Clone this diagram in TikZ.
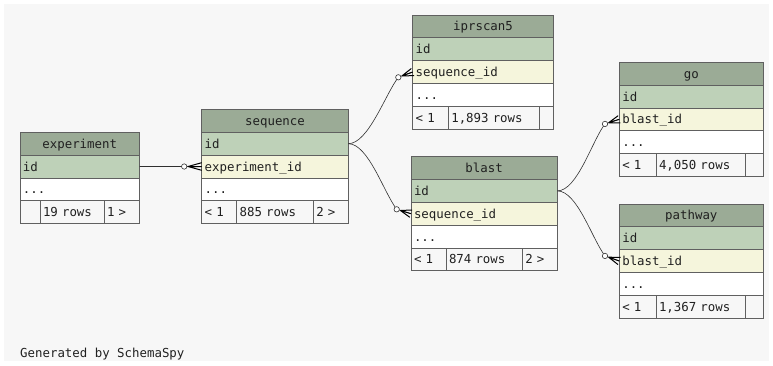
\documentclass[tikz,border=0pt]{standalone}
\usepackage{fontspec}
\newfontfamily\dmonofam{DejaVu Sans Mono}
\newcommand\tbfont{\dmonofam\fontsize{12.4}{14}\selectfont}
\usetikzlibrary{calc}
\definecolor{bgcol}{HTML}{F7F7F7}
\definecolor{hdcol}{HTML}{9BAB96}
\definecolor{pkcol}{HTML}{BED1B8}
\definecolor{fkcol}{HTML}{F5F5DC}
\definecolor{bordercol}{HTML}{606060}
\definecolor{txtcol}{HTML}{202020}
\definecolor{edgecol}{HTML}{303030}
\newcommand\cellL[5]{%
  \pgfmathsetmacro\tw{#3-6}%
  \node[cell, fill=#4, minimum width=#3pt, text width=\tw pt, align=left] (#1) at (#2) {#5};}
\newcommand\cellC[5]{%
  \pgfmathsetmacro\tw{#3-6}%
  \node[cell, fill=#4, minimum width=#3pt, text width=\tw pt, align=center] (#1) at (#2) {#5};}
\newcommand\crowfoot[2]{%
  \draw[edge] (#2) -- (#1);
  \draw[crowline] ($(#2)!3.8pt!(#1)$) -- ($(#1)!3.8pt!90:(#2)$)
                  ($(#2)!3.8pt!(#1)$) -- ($(#1)!3.8pt!-90:(#2)$)
                  ($(#2)!3.8pt!(#1)$) -- (#1);
  \draw[edge, fill=white] (#2) circle (2.7pt);}
\begin{document}
\begin{tikzpicture}[x=1pt,y=-1pt,
  cell/.style={draw=bordercol, line width=0.7pt, inner xsep=3pt, inner ysep=0pt,
    outer sep=0pt, minimum height=22.8pt, anchor=north west, font=\tbfont, text=txtcol,
    text height=9pt, text depth=0pt},
  edge/.style={draw=edgecol, line width=0.6pt},
  crowline/.style={draw=black, line width=1pt}]
\useasboundingbox (0,0) rectangle (773,365);
\fill[bgcol] (4,4) rectangle (769,361);

% experiment
\cellC{exph}{20,132.3}{119.5}{hdcol}{experiment}
\cellL{expid}{exph.south west}{119.5}{pkcol}{id}
\cellL{expdots}{expid.south west}{119.5}{white}{...}
\cellL{expf1}{expdots.south west}{20}{bgcol}{}
\cellL{expf2}{expf1.north east}{64}{bgcol}{19 rows}
\cellL{expf3}{expf2.north east}{35.5}{bgcol}{1 >}

% sequence
\cellC{seqh}{201.7,109.5}{146.6}{hdcol}{sequence}
\cellL{seqid}{seqh.south west}{146.6}{pkcol}{id}
\cellL{seqfk}{seqid.south west}{146.6}{fkcol}{experiment\_id}
\cellL{seqdots}{seqfk.south west}{146.6}{white}{...}
\cellL{seqf1}{seqdots.south west}{35}{bgcol}{< 1}
\cellL{seqf2}{seqf1.north east}{76.6}{bgcol}{885 rows}
\cellL{seqf3}{seqf2.north east}{35}{bgcol}{2 >}

% iprscan5
\cellC{iprh}{412.7,15}{140.6}{hdcol}{iprscan5}
\cellL{iprid}{iprh.south west}{140.6}{pkcol}{id}
\cellL{iprfk}{iprid.south west}{140.6}{fkcol}{sequence\_id}
\cellL{iprdots}{iprfk.south west}{140.6}{white}{...}
\cellL{iprf1}{iprdots.south west}{35.6}{bgcol}{< 1}
\cellL{iprf2}{iprf1.north east}{90.7}{bgcol}{1,893 rows}
\cellL{iprf3}{iprf2.north east}{14.3}{bgcol}{}

% blast
\cellC{blh}{411,156.7}{146.3}{hdcol}{blast}
\cellL{blid}{blh.south west}{146.3}{pkcol}{id}
\cellL{blfk}{blid.south west}{146.3}{fkcol}{sequence\_id}
\cellL{bldots}{blfk.south west}{146.3}{white}{...}
\cellL{blf1}{bldots.south west}{35}{bgcol}{< 1}
\cellL{blf2}{blf1.north east}{76.3}{bgcol}{874 rows}
\cellL{blf3}{blf2.north east}{35}{bgcol}{2 >}

% go
\cellC{goh}{619.3,62.3}{144}{hdcol}{go}
\cellL{goid}{goh.south west}{144}{pkcol}{id}
\cellL{gofk}{goid.south west}{144}{fkcol}{blast\_id}
\cellL{godots}{gofk.south west}{144}{white}{...}
\cellL{gof1}{godots.south west}{36.7}{bgcol}{< 1}
\cellL{gof2}{gof1.north east}{89}{bgcol}{4,050 rows}
\cellL{gof3}{gof2.north east}{18.3}{bgcol}{}

% pathway
\cellC{pwh}{619.3,204}{144}{hdcol}{pathway}
\cellL{pwid}{pwh.south west}{144}{pkcol}{id}
\cellL{pwfk}{pwid.south west}{144}{fkcol}{blast\_id}
\cellL{pwdots}{pwfk.south west}{144}{white}{...}
\cellL{pwf1}{pwdots.south west}{36.7}{bgcol}{< 1}
\cellL{pwf2}{pwf1.north east}{89}{bgcol}{1,367 rows}
\cellL{pwf3}{pwf2.north east}{18.3}{bgcol}{}

% connectors
\coordinate (c1) at ($(seqfk.west)+(-17.5,0)$);
\coordinate (c2) at ($(iprfk.west)+(-14.4,5.3)$);
\coordinate (c3) at ($(blfk.west)+(-14.3,-4.4)$);
\coordinate (c4) at ($(gofk.west)+(-14.3,4.6)$);
\coordinate (c5) at ($(pwfk.west)+(-14.3,-5.1)$);

\draw[edge] (expid.east) -- (c1);
\draw[edge] (seqid.east) .. controls +(20,0) and +(-13,17) .. (c2);
\draw[edge] (seqid.east) .. controls +(20,0) and +(-13,-17) .. (c3);
\draw[edge] (blid.east) .. controls +(20,0) and +(-13,17) .. (c4);
\draw[edge] (blid.east) .. controls +(20,0) and +(-13,-17) .. (c5);
\crowfoot{seqfk.west}{c1}
\crowfoot{iprfk.west}{c2}
\crowfoot{blfk.west}{c3}
\crowfoot{gofk.west}{c4}
\crowfoot{pwfk.west}{c5}

\node[font=\tbfont, text=txtcol, anchor=base west, inner sep=0pt] (gen) at (20,357) {Generated by SchemaSpy};
\end{tikzpicture}
\end{document}
